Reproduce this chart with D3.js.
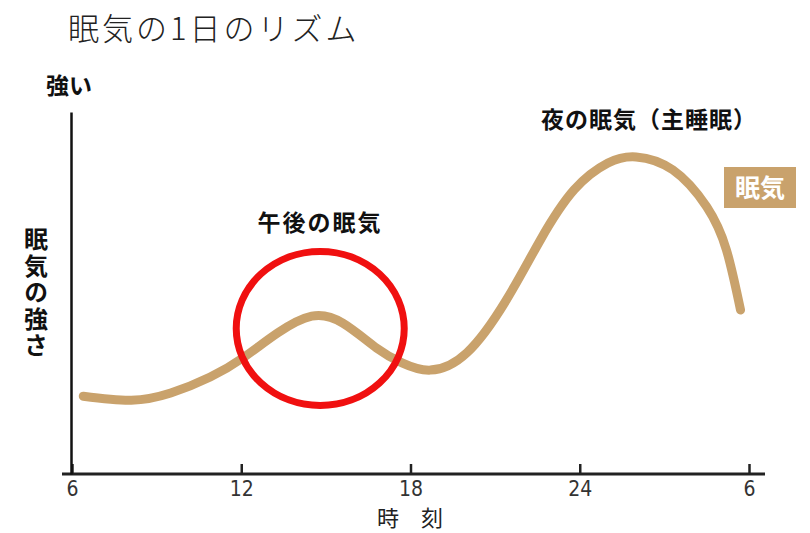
<!DOCTYPE html>
<html>
<head>
<meta charset="utf-8">
<script src="https://cdn.jsdelivr.net/npm/d3@7"></script>
<style>
  body { margin: 0; background: #fff; }
  text { font-family: "Noto Sans CJK JP", "Noto Sans", sans-serif; }
</style>
</head>
<body>
<div id="chart"></div>
<script>
// 1: DATA
const hours = [6.4, 8.1, 9.5, 10.9, 12.1, 13.3, 14.5, 15.6, 16.8, 17.7, 18.7, 20.0, 21.4, 22.6, 23.8, 25.0, 26.0, 27.3, 28.5, 29.2, 29.7];
const sleepiness = [21.5, 20.4, 22.4, 26.8, 32.3, 39.0, 43.6, 41.7, 34.8, 30.7, 28.7, 33.5, 48.1, 64.6, 78.5, 85.9, 87.6, 84.0, 73.8, 61.9, 45.3];
const tickHours = [6, 12, 18, 24, 30];
const tickLabels = ["6", "12", "18", "24", "6"];
const afternoonDip = { hour: 14.8, value: 40.2 };

// 2: SIZES
const W = 810, H = 533;
const curveColor = "#c9a26c";

const svg = d3.select("#chart").append("svg")
    .attr("width", W)
    .attr("height", H);

// 3: SCALES
const x = d3.scaleLinear().domain([6, 30]).range([72, 749]);
const y = d3.scaleLinear().domain([0, 100]).range([474, 112]);

const points = hours.map((h, i) => ({ h, v: sleepiness[i] }));

// 4: AXES
// x axis line runs a bit past the first and last tick
svg.append("line")
    .attr("x1", x(6) - 10)
    .attr("x2", x(30) + 16)
    .attr("y1", y(0))
    .attr("y2", y(0))
    .attr("stroke", "#222")
    .attr("stroke-width", 3);

const xAxis = svg.append("g")
    .attr("transform", `translate(0, ${y(0)})`)
    .call(d3.axisBottom(x)
        .tickValues(tickHours)
        .tickFormat((d, i) => tickLabels[i])
        .tickSizeInner(-10)
        .tickSizeOuter(0)
        .tickPadding(7));
xAxis.select(".domain").remove();
xAxis.selectAll(".tick line").attr("stroke", "#222").attr("stroke-width", 2.5);
xAxis.selectAll(".tick text")
    .attr("fill", "#333")
    .style("font-family", "'Liberation Sans Narrow', 'DejaVu Sans Condensed', sans-serif")
    .style("font-size", "21px");

const yAxis = svg.append("g")
    .attr("transform", `translate(${x(6) - 1}, 0)`)
    .call(d3.axisLeft(y).tickValues([]).tickSizeOuter(0));
yAxis.select(".domain").attr("stroke", "#111").attr("stroke-width", 2.5);

// 5: CURVE
const line = d3.line()
    .x(d => x(d.h))
    .y(d => y(d.v))
    .curve(d3.curveNatural);

svg.append("path")
    .datum(points)
    .attr("d", line)
    .attr("fill", "none")
    .attr("stroke", curveColor)
    .attr("stroke-width", 9)
    .attr("stroke-linecap", "round")
    .attr("stroke-linejoin", "round");

// red ring around the afternoon bump
svg.append("ellipse")
    .attr("cx", x(afternoonDip.hour))
    .attr("cy", y(afternoonDip.value))
    .attr("rx", 84)
    .attr("ry", 77)
    .attr("fill", "none")
    .attr("stroke", "#f01010")
    .attr("stroke-width", 7);

// 6: LABELS
svg.append("text")
    .attr("x", 68)
    .attr("y", 40)
    .style("font-size", "31px")
    .style("font-weight", 300)
    .style("letter-spacing", "3px")
    .attr("fill", "#222")
    .text("眠気の1日のリズム");

svg.append("text")
    .attr("x", 46)
    .attr("y", 94)
    .style("font-size", "23px")
    .style("font-weight", 700)
    .attr("fill", "#111")
    .text("強い");

// vertical y label
svg.append("text")
    .attr("x", 36)
    .attr("y", 227)
    .style("writing-mode", "vertical-rl")
    .style("font-size", "24px")
    .style("font-weight", 700)
    .style("letter-spacing", "2.5px")
    .attr("fill", "#111")
    .text("眠気の強さ");

svg.append("text")
    .attr("x", 410)
    .attr("y", 526)
    .attr("text-anchor", "middle")
    .style("font-size", "22px")
    .attr("fill", "#222")
    .text("時　刻");

svg.append("text")
    .attr("x", 320)
    .attr("y", 231)
    .attr("text-anchor", "middle")
    .style("font-size", "23px")
    .style("font-weight", 700)
    .style("letter-spacing", "2px")
    .attr("fill", "#111")
    .text("午後の眠気");

svg.append("text")
    .attr("x", 541)
    .attr("y", 128)
    .style("font-size", "23px")
    .style("font-weight", 700)
    .style("letter-spacing", "1px")
    .attr("fill", "#111")
    .text("夜の眠気（主睡眠）");

// legend box
svg.append("rect")
    .attr("x", 724)
    .attr("y", 167)
    .attr("width", 72)
    .attr("height", 41)
    .attr("fill", curveColor);

svg.append("text")
    .attr("x", 760)
    .attr("y", 197)
    .attr("text-anchor", "middle")
    .style("font-size", "25px")
    .style("font-weight", 700)
    .attr("fill", "#fff")
    .text("眠気");
</script>
</body>
</html>
